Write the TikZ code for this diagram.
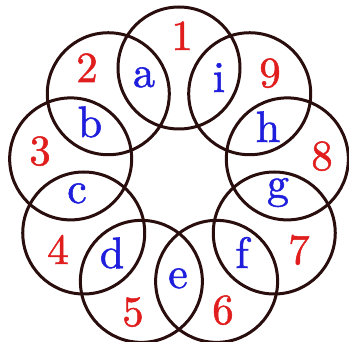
\documentclass[tikz,border=0pt]{standalone}
\usepackage{fontspec}
\newfontfamily\labfont{lmroman10-regular.otf}[FakeBold=1.2]
\definecolor{ringcol}{HTML}{2A0E0E}
\definecolor{numred}{HTML}{E01E1E}
\definecolor{letblue}{HTML}{1E1EDC}
\tikzset{
  ring/.style={circle, draw=ringcol, line width=3pt, minimum size=122pt, inner sep=0pt},
  numlab/.style={anchor=base, text=numred, inner sep=0pt, font=\labfont\fontsize{43}{43}\selectfont},
  letlab/.style={anchor=base, text=letblue, inner sep=0pt, font=\labfont\fontsize{44}{44}\selectfont}
}
\begin{document}
\begin{tikzpicture}[x=1pt,y=-1pt]
\useasboundingbox (0,0) rectangle (349,342);
\foreach \k in {1,...,9}{
  \pgfmathsetmacro{\ang}{90+40*(\k-1)}
  \node[ring] (c\k) at ({179+110*cos(\ang)},{178-110*sin(\ang)}) {};
}
\node[numlab] (n1) at (182,50) {1};
\node[numlab] (n2) at (87,82) {2};
\node[numlab] (n3) at (40,165) {3};
\node[numlab] (n4) at (58,264) {4};
\node[numlab] (n5) at (133,326) {5};
\node[numlab] (n6) at (223,324) {6};
\node[numlab] (n7) at (299,264) {7};
\node[numlab] (n8) at (322,170) {8};
\node[numlab] (n9) at (270,87) {9};
\node[letlab] (la) at (144,87) {a};
\node[letlab] (lb) at (90,137) {b};
\node[letlab] (lc) at (77,203) {c};
\node[letlab] (ld) at (112,268) {d};
\node[letlab] (le) at (178,288) {e};
\node[letlab] (lf) at (242,268) {f};
\node[letlab] (lg) at (278,198) {g};
\node[letlab] (lh) at (268,142) {h};
\node[letlab] (li) at (219,92) {i};
\end{tikzpicture}
\end{document}
